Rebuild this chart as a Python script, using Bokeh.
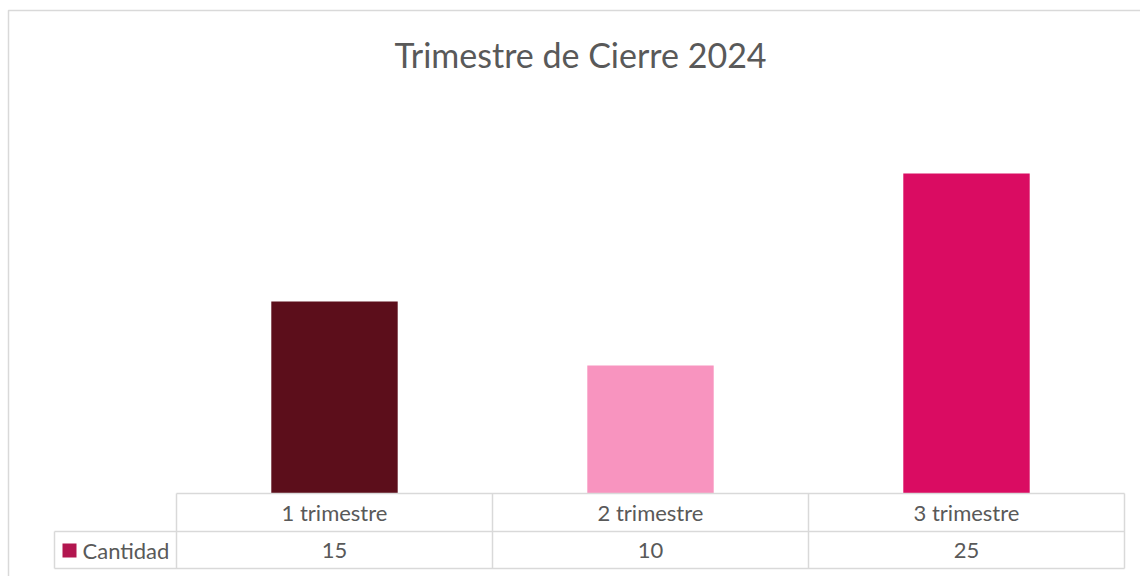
from bokeh.plotting import figure
from bokeh.models import Range1d
from bokeh.core.properties import value
from bokeh.embed import file_html
from bokeh.resources import INLINE

# ---- data ----
categories = ["1 trimestre", "2 trimestre", "3 trimestre"]
cantidad = [15, 10, 25]
bar_colors = ["#5C0E1B", "#F894BF", "#DA0C62"]
series_name = "Cantidad"
title_text = "Trimestre de Cierre 2024"

# ---- layout constants (pixels) ----
W, H = 1140, 576
TABLE_LEFT, COL_W = 176, 316
BASE_PY, TOP_PY, AXIS_MAX = 493, 109, 30
ROW1_PY, ROW2_PY = 531, 568
LEG_LEFT = 54
FONT = "Lato"
TXT = "#595959"
GRID = "#D9D9D9"

scale_y = (BASE_PY - TOP_PY) / AXIS_MAX

def dx(px):
    return (px - TABLE_LEFT) / COL_W

def dy(py):
    return (BASE_PY - py) / scale_y

p = figure(width=W, height=H, output_backend="svg", toolbar_location=None,
           x_range=Range1d(dx(0), dx(W)), y_range=Range1d(dy(H), dy(0)),
           min_border=0, outline_line_color=None)
p.axis.visible = False
p.grid.visible = False
p.background_fill_color = "white"
p.border_fill_color = "white"

# outer chart border
p.quad(left=[dx(8)], right=[dx(W + 10)], top=[dy(10)], bottom=[dy(H + 10)],
       fill_color=None, line_color=GRID, line_width=1.5)

# bars
n = len(categories)
xs = [i + 0.5 for i in range(n)]
p.vbar(x=xs, top=cantidad, bottom=0, width=0.4, color=bar_colors, line_color=None)

# title
p.text(x=[dx(580)], y=[dy(54)], text=[title_text], text_align="center",
       text_baseline="middle", text_font=value(FONT), text_font_size="34px",
       text_color=TXT)

# data table lines
p.segment(x0=[0, dx(LEG_LEFT), dx(LEG_LEFT)], x1=[n, n, n],
          y0=[0, dy(ROW1_PY), dy(ROW2_PY)], y1=[0, dy(ROW1_PY), dy(ROW2_PY)],
          line_color=GRID, line_width=1.5)
vx = list(range(n + 1))
p.segment(x0=vx, x1=vx, y0=[0] * len(vx), y1=[dy(ROW2_PY)] * len(vx),
          line_color=GRID, line_width=1.5)
p.segment(x0=[dx(LEG_LEFT)], x1=[dx(LEG_LEFT)], y0=[dy(ROW1_PY)], y1=[dy(ROW2_PY)],
          line_color=GRID, line_width=1.5)

# table texts
row1_y = dy((BASE_PY + ROW1_PY) / 2)
row2_y = dy((ROW1_PY + ROW2_PY) / 2)
p.text(x=xs, y=[row1_y] * n, text=categories, text_align="center",
       text_baseline="middle", text_font=value(FONT), text_font_size="22px",
       text_color=TXT)
p.text(x=xs, y=[row2_y] * n, text=[str(v) for v in cantidad], text_align="center",
       text_baseline="middle", text_font=value(FONT), text_font_size="22px",
       text_color=TXT)

# legend key
p.quad(left=[dx(62)], right=[dx(76)], top=[dy(543)], bottom=[dy(557)],
       color="#B2164F", line_color=None)
p.text(x=[dx(82)], y=[row2_y], text=[series_name], text_align="left",
       text_baseline="middle", text_font=value(FONT), text_font_size="22px",
       text_color=TXT)

open("out.html", "w").write(file_html(p, INLINE))
